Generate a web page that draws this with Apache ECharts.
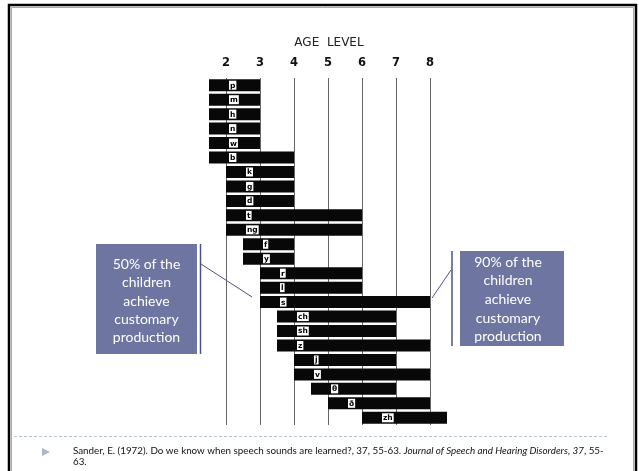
<!DOCTYPE html>
<html>
<head>
<meta charset="utf-8">
<script src="https://cdn.jsdelivr.net/npm/echarts@6/dist/echarts.min.js"></script>
<style>
html,body{margin:0;padding:0;background:#fff;}
#chart{width:639px;height:471px;}
</style>
</head>
<body>
<div id="chart"></div>
<script>
// Speech sounds (rows, top to bottom)
var sounds = ['p','m','h','n','w','b','k','g','d','t','ng','f','y','r','l','s','ch','sh','z','j','v','θ','ð','zh'];
// Age at which 50% of children achieve customary production (bar start)
var age50 = [1.5,1.5,1.5,1.5,1.5,1.5,2,2,2,2,2,2.5,2.5,3,3,3,3.5,3.5,3.5,4,4,4.5,5,6];
// Age at which 90% of children achieve customary production (bar end)
var age90 = [3,3,3,3,3,4,4,4,4,6,6,4,4,6,6,8,7,7,8,7,8,7,8,8.5];
// Age level tick labels
var ageTicks = [2,3,4,5,6,7,8];

var spans = age90.map(function(v,i){ return +(v - age50[i]).toFixed(2); });

var chart = echarts.init(document.getElementById('chart'), null, {renderer:'canvas'});

var boxColor = '#6d75a0';
var lineColor = '#4b5283';
var axisMin = 1, axisMax = 9;
var splitColors = [];
for (var v = axisMin; v <= axisMax; v++) {
  splitColors.push(ageTicks.indexOf(v) >= 0 ? '#666' : 'rgba(0,0,0,0)');
}

chart.setOption({
  animation: false,
  backgroundColor: '#fff',
  grid: {left: 192, right: 175, top: 78, bottom: 46},
  xAxis: {
    type: 'value', position: 'top', min: axisMin, max: axisMax, interval: 1,
    axisLine: {show: false}, axisTick: {show: false},
    splitLine: {show: true, lineStyle: {color: splitColors, width: 1, type: 'solid'}},
    axisLabel: {
      margin: 9, color: '#111', fontSize: 11.5, fontWeight: 'bold', fontFamily: 'DejaVu Sans',
      formatter: function(v){ return ageTicks.indexOf(v) >= 0 ? String(v) : ''; }
    }
  },
  yAxis: {
    type: 'category', data: sounds, inverse: true, show: false
  },
  series: [
    {
      type: 'bar', stack: 'a', data: age50, barWidth: 12, silent: true,
      itemStyle: {color: 'rgba(0,0,0,0)'}
    },
    {
      type: 'bar', stack: 'a', data: spans, barWidth: 12,
      itemStyle: {color: '#080808'},
      label: {
        show: true, position: 'insideLeft', distance: 20,
        formatter: function(p){ return '{a|' + sounds[p.dataIndex] + '}'; },
        rich: {a: {backgroundColor: '#fff', color: '#000', fontSize: 7.5, fontWeight: 'bold',
                   fontFamily: 'DejaVu Sans', padding: [1,1,0,1], lineHeight: 9}}
      }
    }
  ],
  graphic: [
    // slide frame
    {type:'rect', shape:{x:9, y:5, width:627, height:480}, style:{fill:'none', stroke:'#000', lineWidth:2.5}, silent:true},
    {type:'rect', shape:{x:11.5, y:7.5, width:622, height:475}, style:{fill:'none', stroke:'#aaa', lineWidth:1}, silent:true},
    // title
    {type:'text', x:329, y:43, style:{text:'AGE  LEVEL', font:'12px "DejaVu Sans"', fill:'#222', align:'center', verticalAlign:'middle'}},
    // left annotation
    {type:'rect', shape:{x:96, y:244, width:101, height:110}, style:{fill:boxColor}},
    {type:'text', x:146.5, y:301, style:{text:'50% of the\nchildren\nachieve\ncustomary\nproduction', font:'14px Lato', lineHeight:18.3, fill:'#fff', align:'center', verticalAlign:'middle'}},
    {type:'line', shape:{x1:200.5, y1:244, x2:200.5, y2:354}, style:{stroke:lineColor, lineWidth:1.5}},
    {type:'line', shape:{x1:201, y1:264, x2:252, y2:297}, style:{stroke:lineColor, lineWidth:1}},
    // right annotation
    {type:'rect', shape:{x:460, y:251, width:104, height:95}, style:{fill:boxColor}},
    {type:'text', x:508, y:299.5, style:{text:'90% of the\nchildren\nachieve\ncustomary\nproduction', font:'14px Lato', lineHeight:18.6, fill:'#fff', align:'center', verticalAlign:'middle'}},
    {type:'line', shape:{x1:452, y1:251, x2:452, y2:346}, style:{stroke:lineColor, lineWidth:1.5}},
    {type:'line', shape:{x1:451, y1:270, x2:432, y2:298}, style:{stroke:lineColor, lineWidth:1}},
    // footer
    {type:'line', shape:{x1:14, y1:436.5, x2:607, y2:436.5}, style:{stroke:'#b9c5d8', lineWidth:1, lineDash:[3,2]}},
    {type:'polygon', shape:{points:[[42,448],[50,452],[42,456]]}, style:{fill:'#a9b7cd'}},
    {type:'text', x:73, y:445, style:{
      text:'{n|Sander, E. (1972). Do we know when speech sounds are learned?, 37, 55-63. }{i|Journal of Speech and Hearing Disorders}{n|, }{i|37}{n|, 55-}\n{n|63.}',
      rich:{
        n:{font:'9.8px Lato', fill:'#111', lineHeight:11},
        i:{font:'italic 9.8px Lato', fill:'#111', lineHeight:11}
      }
    }}
  ]
});
</script>
</body>
</html>
